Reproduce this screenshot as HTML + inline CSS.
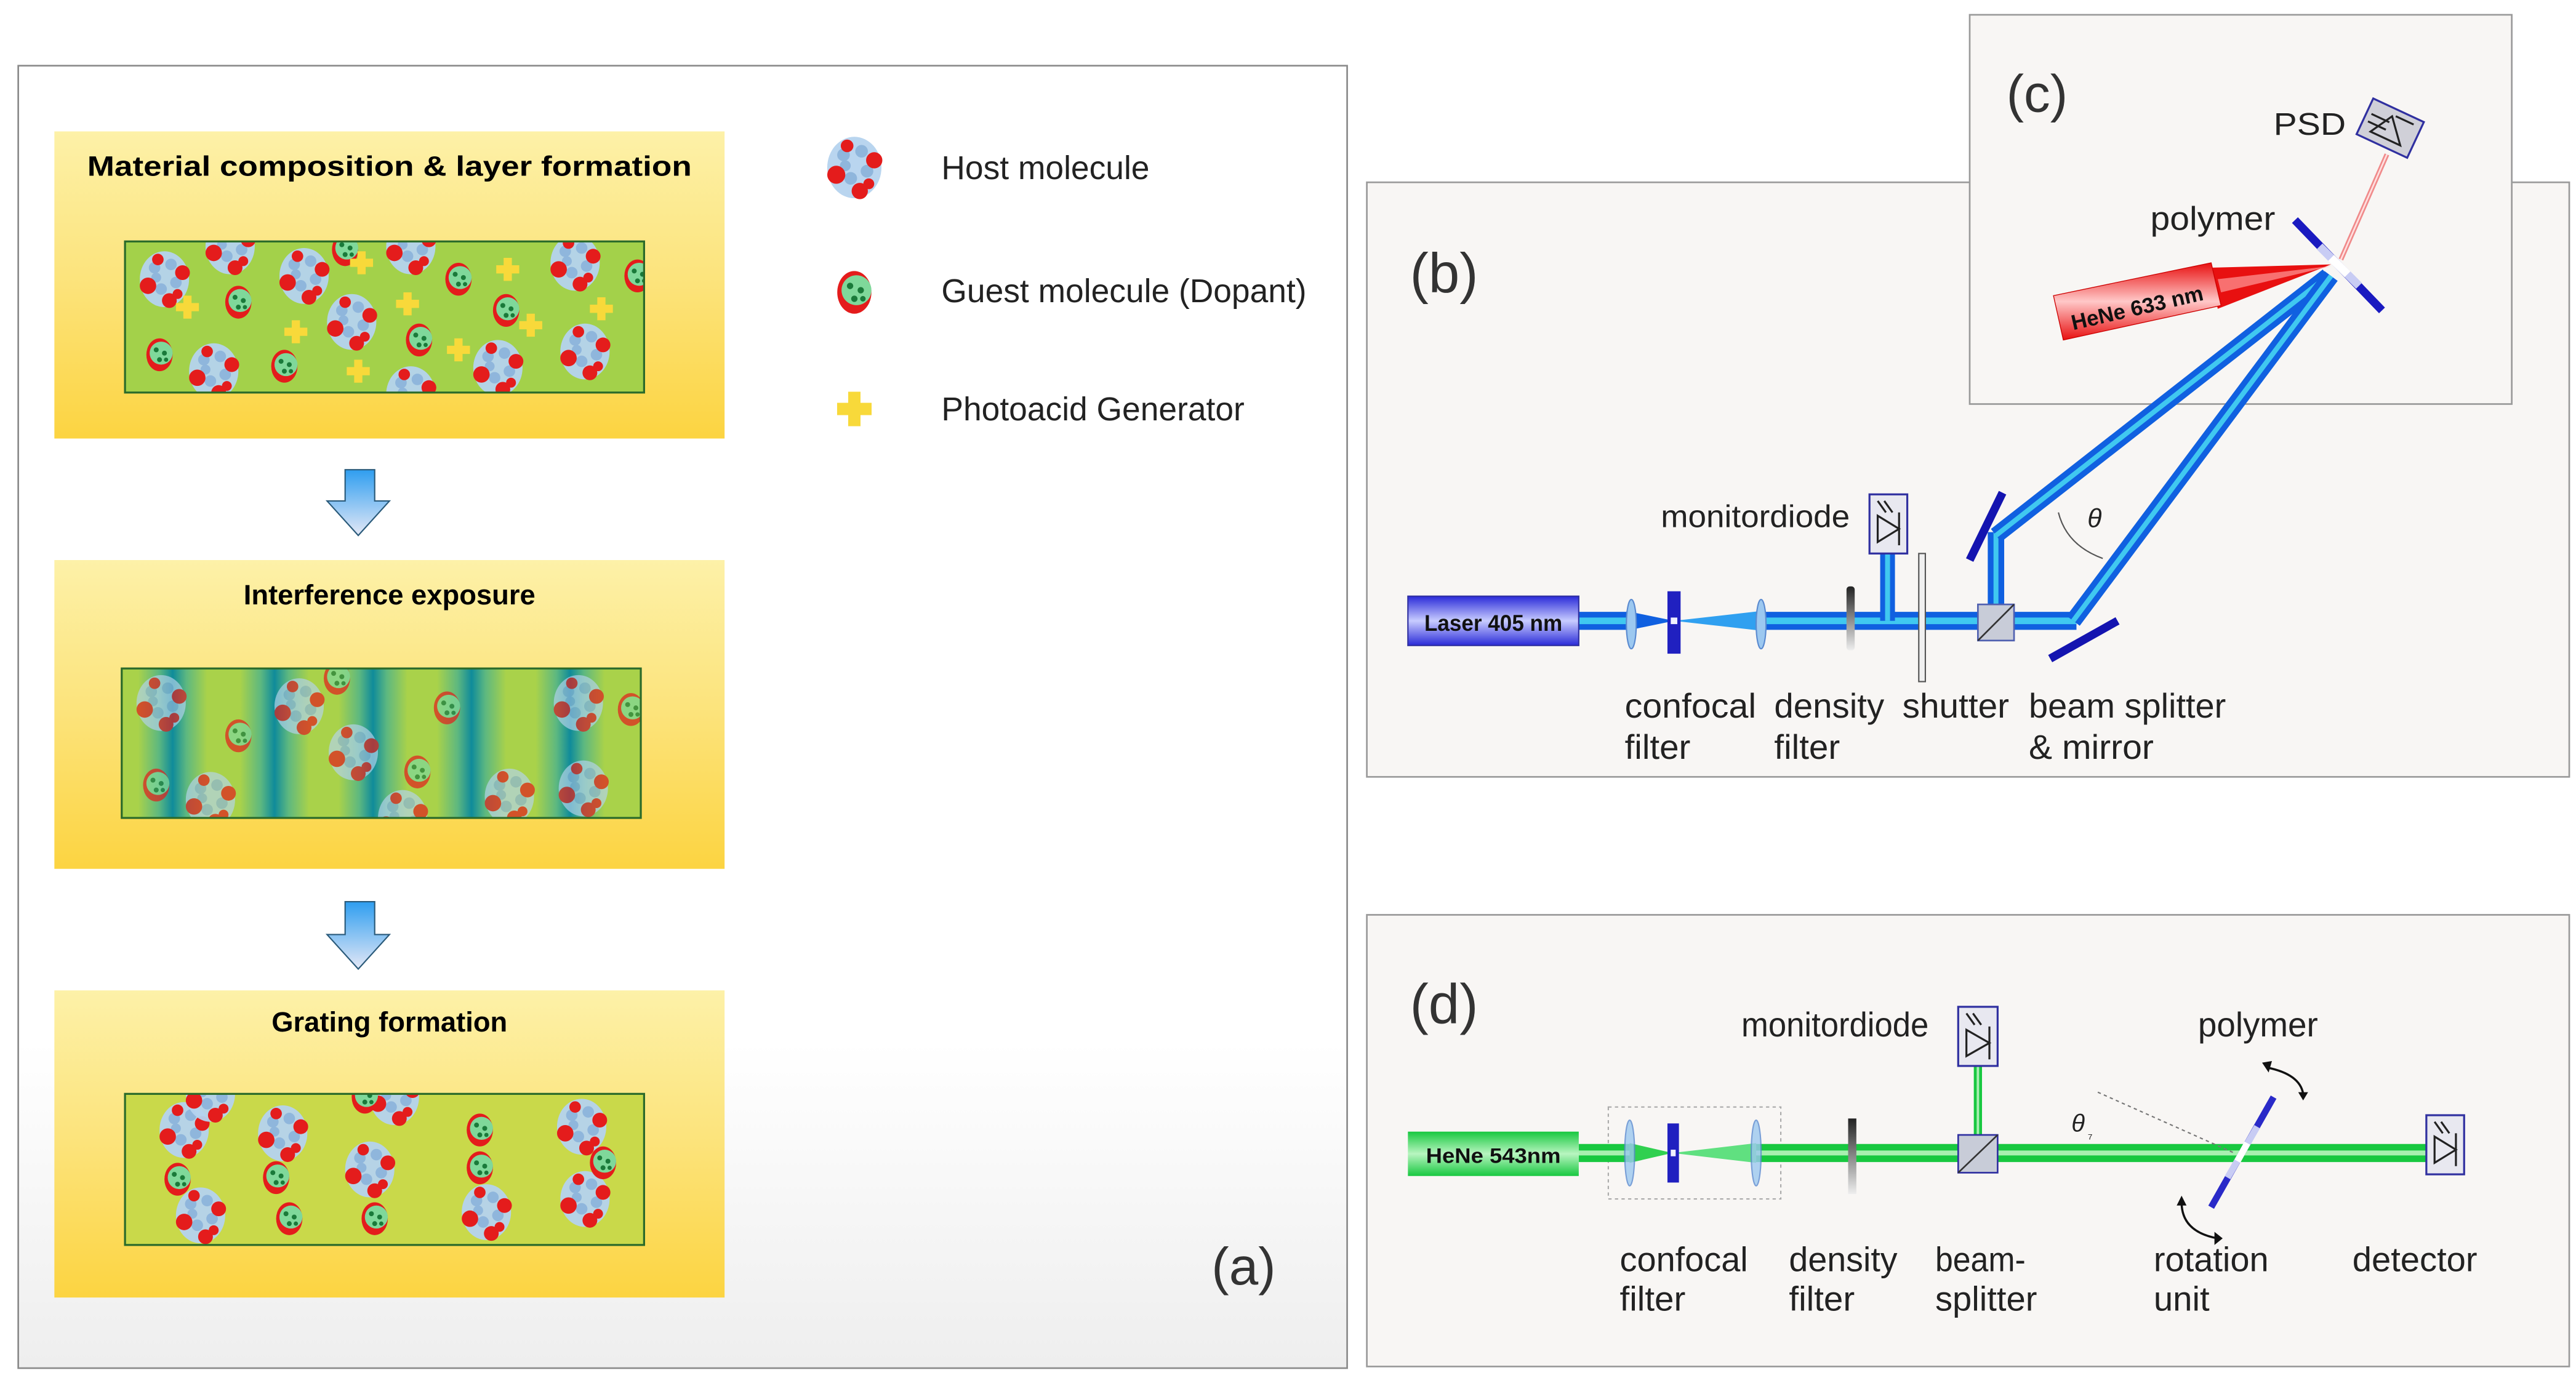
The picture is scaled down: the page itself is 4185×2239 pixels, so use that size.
<!DOCTYPE html>
<html><head><meta charset="utf-8"><style>
html,body{margin:0;padding:0;background:#fff;}
svg{display:block;}
text{font-family:"Liberation Sans",Arial,sans-serif;}
</style></head><body>
<svg width="4185" height="2239" viewBox="0 0 1568 839" xmlns="http://www.w3.org/2000/svg">
<defs>
<linearGradient id="ybox" x1="0" y1="0" x2="0" y2="1">
<stop offset="0" stop-color="#fdf1a8"/><stop offset="0.5" stop-color="#fce37a"/><stop offset="1" stop-color="#fcd441"/></linearGradient>
<linearGradient id="abg" x1="0" y1="0" x2="0" y2="1">
<stop offset="0" stop-color="#ffffff"/><stop offset="0.75" stop-color="#ffffff"/><stop offset="1" stop-color="#eeeeee"/></linearGradient>
<linearGradient id="arr" x1="0" y1="0" x2="0" y2="1">
<stop offset="0" stop-color="#2f9ef0"/><stop offset="1" stop-color="#e4e8f6"/></linearGradient>
<linearGradient id="bands" x1="0" y1="0" x2="1" y2="0">
<stop offset="0" stop-color="#a9d24a"/><stop offset="0.3" stop-color="#5db880"/><stop offset="0.5" stop-color="#0f8b9a"/><stop offset="0.7" stop-color="#5db880"/><stop offset="1" stop-color="#a9d24a"/></linearGradient>
<linearGradient id="laserB" x1="0" y1="0" x2="0" y2="1">
<stop offset="0" stop-color="#2a2ad8"/><stop offset="0.5" stop-color="#c8ccff"/><stop offset="1" stop-color="#2a2ad8"/></linearGradient>
<linearGradient id="laserG" x1="0" y1="0" x2="0" y2="1">
<stop offset="0" stop-color="#18c840"/><stop offset="0.5" stop-color="#b8f5c0"/><stop offset="1" stop-color="#18c840"/></linearGradient>
<linearGradient id="laserR" x1="0" y1="0" x2="0" y2="1">
<stop offset="0" stop-color="#e81010"/><stop offset="0.5" stop-color="#ffc8c8"/><stop offset="1" stop-color="#e81010"/></linearGradient>
<linearGradient id="dens" x1="0" y1="0" x2="0" y2="1">
<stop offset="0" stop-color="#222"/><stop offset="1" stop-color="#eee"/></linearGradient>
<g id="host">
<ellipse cx="0" cy="0" rx="15" ry="17" fill="#b5d3ee" opacity="0.95"/>
<circle cx="-6" cy="-7" r="3.5" fill="#8fb6dc"/><circle cx="4" cy="-9" r="3.5" fill="#8fb6dc"/><circle cx="7" cy="2" r="3.5" fill="#8fb6dc"/><circle cx="-2" cy="6" r="3.5" fill="#8fb6dc"/><circle cx="-5" cy="-1" r="3" fill="#8fb6dc"/>
<circle cx="-10" cy="4" r="5" fill="#e41c1c"/><circle cx="11" cy="-4" r="4.5" fill="#e41c1c"/><circle cx="3" cy="13" r="4.5" fill="#e41c1c"/><circle cx="-4" cy="-12" r="3.5" fill="#e41c1c"/><circle cx="8" cy="9" r="3" fill="#e41c1c"/>
</g>
<g id="guest">
<ellipse cx="0" cy="0" rx="8" ry="10" fill="#e41c1c"/>
<ellipse cx="1" cy="-1" rx="7" ry="7" fill="#7fd89a"/>
<circle cx="-2" cy="-3" r="1.5" fill="#1a7a3a"/><circle cx="3" cy="-1" r="1.5" fill="#1a7a3a"/><circle cx="0" cy="3" r="1.5" fill="#1a7a3a"/><circle cx="4" cy="3" r="1.3" fill="#1a7a3a"/>
</g>
<g id="pag">
<rect x="-2.5" y="-7" width="5" height="14" fill="#f8d93a"/><rect x="-7" y="-2.5" width="14" height="5" fill="#f8d93a"/>
</g>
<clipPath id="c1"><rect x="76" y="147" width="316" height="92"/></clipPath>
<clipPath id="c2"><rect x="74" y="407" width="316" height="91"/></clipPath>
<clipPath id="c3"><rect x="76" y="666" width="316" height="92"/></clipPath>
</defs>

<!-- Panel (a) -->
<rect x="11" y="40" width="809" height="793" fill="url(#abg)" stroke="#8a8a8a" stroke-width="1"/>
<rect x="33" y="80" width="408" height="187" fill="url(#ybox)"/>
<rect x="33" y="341" width="408" height="188" fill="url(#ybox)"/>
<rect x="33" y="603" width="408" height="187" fill="url(#ybox)"/>
<text x="237" y="107" font-size="17" font-weight="bold" text-anchor="middle" textLength="368" lengthAdjust="spacingAndGlyphs">Material composition &amp; layer formation</text>
<text x="237" y="368" font-size="17" font-weight="bold" text-anchor="middle">Interference exposure</text>
<text x="237" y="628" font-size="17" font-weight="bold" text-anchor="middle">Grating formation</text>

<!-- box1 inner -->
<rect x="76" y="147" width="316" height="92" fill="#a3d14a"/>
<g clip-path="url(#c1)">
<use href="#host" x="100" y="170"/><use href="#host" x="140" y="150"/><use href="#host" x="185" y="168"/><use href="#host" x="214" y="196"/>
<use href="#host" x="250" y="150"/><use href="#host" x="130" y="226"/><use href="#host" x="250" y="240"/><use href="#host" x="303" y="224"/>
<use href="#host" x="350" y="160"/><use href="#host" x="356" y="214"/>
<use href="#guest" x="145" y="184"/><use href="#guest" x="97" y="216"/><use href="#guest" x="173" y="223"/><use href="#guest" x="279" y="170"/>
<use href="#guest" x="255" y="207"/><use href="#guest" x="308" y="189"/><use href="#guest" x="388" y="168"/><use href="#guest" x="210" y="152"/>
<use href="#pag" x="114" y="187"/><use href="#pag" x="180" y="202"/><use href="#pag" x="218" y="226"/><use href="#pag" x="220" y="160"/>
<use href="#pag" x="248" y="185"/><use href="#pag" x="279" y="213"/><use href="#pag" x="309" y="164"/><use href="#pag" x="323" y="198"/><use href="#pag" x="366" y="188"/>
</g>
<rect x="76" y="147" width="316" height="92" fill="none" stroke="#2a6a2a" stroke-width="1.2"/>

<!-- box2 inner -->
<g clip-path="url(#c2)">
<rect x="74" y="407" width="316" height="91" fill="#a9d24a"/>
<rect x="84" y="407" width="42" height="91" fill="url(#bands)"/>
<rect x="146" y="407" width="42" height="91" fill="url(#bands)"/>
<rect x="206" y="407" width="42" height="91" fill="url(#bands)"/>
<rect x="266" y="407" width="42" height="91" fill="url(#bands)"/>
<rect x="326" y="407" width="42" height="91" fill="url(#bands)"/>
<g opacity="0.7">
<use href="#host" x="98" y="428"/><use href="#host" x="182" y="430"/><use href="#host" x="215" y="458"/><use href="#host" x="128" y="487"/>
<use href="#host" x="310" y="485"/><use href="#host" x="352" y="428"/><use href="#host" x="355" y="480"/><use href="#host" x="245" y="498"/>
<use href="#guest" x="145" y="448"/><use href="#guest" x="95" y="478"/><use href="#guest" x="254" y="470"/><use href="#guest" x="272" y="431"/><use href="#guest" x="384" y="432"/><use href="#guest" x="205" y="413"/>
</g>
</g>
<rect x="74" y="407" width="316" height="91" fill="none" stroke="#2a6a2a" stroke-width="1.2"/>

<!-- box3 inner -->
<rect x="76" y="666" width="316" height="92" fill="#c9d94a"/>
<g clip-path="url(#c3)">
<use href="#host" x="112" y="688"/><use href="#host" x="172" y="690"/><use href="#host" x="225" y="712"/><use href="#host" x="122" y="740"/>
<use href="#host" x="296" y="738"/><use href="#host" x="354" y="686"/><use href="#host" x="356" y="730"/><use href="#host" x="240" y="668"/><use href="#host" x="128" y="666"/>
<use href="#guest" x="108" y="718"/><use href="#guest" x="168" y="717"/><use href="#guest" x="176" y="742"/><use href="#guest" x="222" y="668"/>
<use href="#guest" x="228" y="742"/><use href="#guest" x="292" y="688"/><use href="#guest" x="292" y="711"/><use href="#guest" x="367" y="708"/>
</g>
<rect x="76" y="666" width="316" height="92" fill="none" stroke="#2a6a2a" stroke-width="1.2"/>

<!-- arrows -->
<path d="M210 286 H228 V305 H237 L218 326 L199 305 H210 Z" fill="url(#arr)" stroke="#2a5a7a" stroke-width="0.8"/>
<path d="M210 549 H228 V569 H237 L218 590 L199 569 H210 Z" fill="url(#arr)" stroke="#2a5a7a" stroke-width="0.8"/>

<!-- legend -->
<g transform="translate(520 102) scale(1.1)"><use href="#host"/></g>
<g transform="translate(520 178) scale(1.3)"><use href="#guest"/></g>
<g transform="translate(520 249) scale(1.5)"><use href="#pag"/></g>
<text x="573" y="109" font-size="20" fill="#222">Host molecule</text>
<text x="573" y="184" font-size="20" fill="#222">Guest molecule (Dopant)</text>
<text x="573" y="256" font-size="20" fill="#222">Photoacid Generator</text>
<text x="757" y="782" font-size="32" fill="#333" text-anchor="middle">(a)</text>

<!-- Panel (b) -->
<rect x="832" y="111" width="732" height="362" fill="#f8f6f4" stroke="#9a9a9a" stroke-width="1"/>
<!-- Panel (c) -->
<rect x="1199" y="9" width="330" height="237" fill="#f8f6f4" stroke="#9a9a9a" stroke-width="1"/>
<text x="879" y="178" font-size="34" fill="#333" text-anchor="middle">(b)</text>
<text x="1240" y="68" font-size="32" fill="#333" text-anchor="middle">(c)</text>

<!-- (b) beams -->
<g stroke-linecap="butt">
<line x1="961" y1="378" x2="990" y2="378" stroke="#1060e0" stroke-width="11"/>
<line x1="1072" y1="378" x2="1264" y2="378" stroke="#1060e0" stroke-width="11"/>
<line x1="961" y1="378" x2="990" y2="378" stroke="#40c8f0" stroke-width="4"/>
<line x1="1072" y1="378" x2="1264" y2="378" stroke="#40c8f0" stroke-width="4"/>
<line x1="1149" y1="378" x2="1149" y2="337" stroke="#1060e0" stroke-width="9"/>
<line x1="1149" y1="378" x2="1149" y2="337" stroke="#40c8f0" stroke-width="3"/>
<line x1="1215" y1="378" x2="1215" y2="324" stroke="#1060e0" stroke-width="10"/>
<line x1="1215" y1="378" x2="1215" y2="324" stroke="#40c8f0" stroke-width="3"/>
<polyline points="1215,326 1417,168" fill="none" stroke="#1060e0" stroke-width="10"/>
<polyline points="1215,326 1417,168" fill="none" stroke="#40c8f0" stroke-width="3"/>
<polyline points="1262,378 1419,168" fill="none" stroke="#1060e0" stroke-width="10"/>
<polyline points="1262,378 1419,168" fill="none" stroke="#40c8f0" stroke-width="3"/>
</g>
<polygon points="990,372 1019,378 990,384" fill="#1060e0"/>
<polygon points="1072,372 1019,378 1072,384" fill="#30a0f0"/>
<ellipse cx="993" cy="380" rx="3" ry="15" fill="#9cc8f0" stroke="#5a8ad0" stroke-width="0.8"/>
<ellipse cx="1072" cy="380" rx="3" ry="15" fill="#9cc8f0" stroke="#5a8ad0" stroke-width="0.8"/>
<rect x="1015" y="360" width="8" height="38" fill="#2020c0"/>
<rect x="1017" y="376" width="4" height="4" fill="#f0f0ff"/>
<rect x="1124" y="357" width="5" height="39" rx="2" fill="url(#dens)"/>
<rect x="857" y="363" width="104" height="30" fill="url(#laserB)" stroke="#3030a0" stroke-width="0.8"/>
<text x="909" y="384" font-size="14" font-weight="bold" fill="#111" text-anchor="middle" textLength="84" lengthAdjust="spacingAndGlyphs">Laser 405 nm</text>
<rect x="1138" y="301" width="23" height="36" fill="#e8e8f0" stroke="#3030a0" stroke-width="1.2"/>
<path d="M1143 314 L1156 322 L1143 330 Z M1156 312 V332 M1143 305 L1148 312 M1147 305 L1152 312" fill="none" stroke="#222" stroke-width="1.2"/>
<text x="1126" y="321" font-size="19" fill="#222" text-anchor="end" textLength="115" lengthAdjust="spacingAndGlyphs">monitordiode</text>
<rect x="1168" y="337" width="4" height="78" fill="#f0f0f0" stroke="#555" stroke-width="0.8"/>
<rect x="1204" y="368" width="22" height="22" fill="#c8ccd8" stroke="#5060b0" stroke-width="1"/>
<line x1="1204" y1="390" x2="1226" y2="368" stroke="#333" stroke-width="1"/>
<line x1="1248" y1="401" x2="1289" y2="378" stroke="#1414b0" stroke-width="5"/>
<line x1="1219" y1="300" x2="1199" y2="341" stroke="#1414b0" stroke-width="5"/>
<path d="M1253 312 Q1258 332 1280 340" fill="none" stroke="#555" stroke-width="0.8"/>
<text x="1275" y="321" font-size="16" font-style="italic" fill="#222" text-anchor="middle">θ</text>
<g font-size="21" fill="#222">
<text x="989" y="437" textLength="80" lengthAdjust="spacingAndGlyphs">confocal</text>
<text x="989" y="462" textLength="40" lengthAdjust="spacingAndGlyphs">filter</text>
<text x="1080" y="437" textLength="67" lengthAdjust="spacingAndGlyphs">density</text>
<text x="1080" y="462" textLength="40" lengthAdjust="spacingAndGlyphs">filter</text>
<text x="1158" y="437" textLength="65" lengthAdjust="spacingAndGlyphs">shutter</text>
<text x="1235" y="437" textLength="120" lengthAdjust="spacingAndGlyphs">beam splitter</text>
<text x="1235" y="462" textLength="76" lengthAdjust="spacingAndGlyphs">&amp; mirror</text>
</g>
<!-- (c) -->
<line x1="1425" y1="158" x2="1453" y2="94" stroke="#f08a8a" stroke-width="3"/>
<line x1="1425" y1="158" x2="1453" y2="94" stroke="#ffe0e0" stroke-width="1"/>
<g transform="translate(1455 78) rotate(25)">
<rect x="-17" y="-12" width="34" height="24" fill="#d0d0d8" stroke="#3030a0" stroke-width="1.2"/>
<path d="M-2 -7 L10 7 L-10 7 Z M-14 -3 H-2 M-14 2 H-2 M0 -8 H12" fill="none" stroke="#222" stroke-width="1.2"/>
</g>
<text x="1384" y="82" font-size="19" fill="#222" textLength="44" lengthAdjust="spacingAndGlyphs">PSD</text>
<line x1="1397" y1="134" x2="1450" y2="189" stroke="#1a1ac0" stroke-width="5"/>
<line x1="1412" y1="150" x2="1436" y2="174" stroke="#c8ccf4" stroke-width="5"/>
<line x1="1419" y1="157" x2="1429" y2="167" stroke="#ffffff" stroke-width="5"/>
<polygon points="1345,163 1419,161 1350,188" fill="#e81010"/>
<polygon points="1350,170 1419,162 1352,178" fill="#ff9a9a" opacity="0.7"/>
<polygon points="1250,180 1346,160 1352,186 1256,207" fill="url(#laserR)" stroke="#c00" stroke-width="0.5"/>
<text x="0" y="0" font-size="13" font-weight="bold" fill="#111" transform="translate(1262 201) rotate(-13)" textLength="82" lengthAdjust="spacingAndGlyphs">HeNe 633 nm</text>
<text x="1309" y="140" font-size="20" fill="#222" textLength="76" lengthAdjust="spacingAndGlyphs">polymer</text>

<!-- Panel (d) -->
<rect x="832" y="557" width="732" height="275" fill="#f8f6f4" stroke="#9a9a9a" stroke-width="1"/>
<text x="879" y="623" font-size="34" fill="#333" text-anchor="middle">(d)</text>
<rect x="979" y="674" width="105" height="56" fill="none" stroke="#aaa" stroke-width="0.8" stroke-dasharray="2,2"/>
<line x1="961" y1="702" x2="992" y2="702" stroke="#18c840" stroke-width="11"/>
<line x1="961" y1="702" x2="992" y2="702" stroke="#a8f0b0" stroke-width="3"/>
<polygon points="992,696 1018,702 992,708" fill="#30d050"/>
<polygon points="1069,696 1018,702 1069,708" fill="#60e080"/>
<line x1="1069" y1="702" x2="1477" y2="702" stroke="#18c840" stroke-width="11"/>
<line x1="1069" y1="702" x2="1477" y2="702" stroke="#a8f0b0" stroke-width="3"/>
<line x1="1204" y1="649" x2="1204" y2="692" stroke="#18c840" stroke-width="5"/>
<line x1="1204" y1="649" x2="1204" y2="692" stroke="#a8f0b0" stroke-width="1.5"/>
<ellipse cx="992" cy="702" rx="3" ry="20" fill="#9cc8f0" stroke="#5a8ad0" stroke-width="0.8" opacity="0.8"/>
<ellipse cx="1069" cy="702" rx="3" ry="20" fill="#9cc8f0" stroke="#5a8ad0" stroke-width="0.8" opacity="0.8"/>
<rect x="1015" y="684" width="7" height="36" fill="#2020c0"/>
<rect x="1017" y="700" width="3" height="4" fill="#f0f0ff"/>
<rect x="1125" y="681" width="5" height="46" fill="url(#dens)"/>
<rect x="857" y="689" width="104" height="27" fill="url(#laserG)"/>
<text x="909" y="708" font-size="13" font-weight="bold" fill="#111" text-anchor="middle" textLength="82" lengthAdjust="spacingAndGlyphs">HeNe 543nm</text>
<rect x="1192" y="691" width="24" height="23" fill="#c8ccd8" stroke="#3030a0" stroke-width="1"/>
<line x1="1192" y1="714" x2="1216" y2="691" stroke="#333" stroke-width="1"/>
<rect x="1192" y="613" width="24" height="36" fill="#e8e8f0" stroke="#3030a0" stroke-width="1.2"/>
<path d="M1197 627 L1211 635 L1197 643 Z M1211 625 V645 M1197 617 L1202 624 M1201 617 L1206 624" fill="none" stroke="#222" stroke-width="1.2"/>
<rect x="1477" y="679" width="23" height="36" fill="#e8e8f0" stroke="#3030a0" stroke-width="1.2"/>
<path d="M1482 692 L1495 700 L1482 708 Z M1495 690 V710 M1482 683 L1487 690 M1486 683 L1491 690" fill="none" stroke="#222" stroke-width="1.2"/>
<line x1="1277" y1="665" x2="1360" y2="702" stroke="#777" stroke-width="0.8" stroke-dasharray="2,2"/>
<text x="1265" y="689" font-size="15" font-style="italic" fill="#222" text-anchor="middle">θ</text>
<text x="1271" y="693" font-size="8" fill="#222">₇</text>
<line x1="1384" y1="668" x2="1346" y2="735" stroke="#2a2ac8" stroke-width="4"/>
<line x1="1374" y1="686" x2="1356" y2="717" stroke="#c8ccf4" stroke-width="4"/>
<line x1="1368" y1="696" x2="1362" y2="707" stroke="#ffffff" stroke-width="4"/>
<path d="M1380 650 Q1400 654 1402 666" fill="none" stroke="#111" stroke-width="1.3"/>
<polygon points="1377,647 1383,646 1381,653" fill="#111"/>
<polygon points="1399,665 1405,665 1402,670" fill="#111"/>
<path d="M1328 732 Q1328 750 1350 754" fill="none" stroke="#111" stroke-width="1.3"/>
<polygon points="1325,734 1331,734 1328,728" fill="#111"/>
<polygon points="1348,750 1348,758 1353,754" fill="#111"/>
<g font-size="21" fill="#222">
<text x="1174" y="631" text-anchor="end" textLength="114" lengthAdjust="spacingAndGlyphs">monitordiode</text>
<text x="1338" y="631" textLength="73" lengthAdjust="spacingAndGlyphs">polymer</text>
<text x="986" y="774" textLength="78" lengthAdjust="spacingAndGlyphs">confocal</text>
<text x="986" y="798" textLength="40" lengthAdjust="spacingAndGlyphs">filter</text>
<text x="1089" y="774" textLength="66" lengthAdjust="spacingAndGlyphs">density</text>
<text x="1089" y="798" textLength="40" lengthAdjust="spacingAndGlyphs">filter</text>
<text x="1178" y="774" textLength="55" lengthAdjust="spacingAndGlyphs">beam-</text>
<text x="1178" y="798" textLength="62" lengthAdjust="spacingAndGlyphs">splitter</text>
<text x="1311" y="774" textLength="70" lengthAdjust="spacingAndGlyphs">rotation</text>
<text x="1311" y="798" textLength="34" lengthAdjust="spacingAndGlyphs">unit</text>
<text x="1432" y="774" textLength="76" lengthAdjust="spacingAndGlyphs">detector</text>
</g>
</svg>
</body></html>
